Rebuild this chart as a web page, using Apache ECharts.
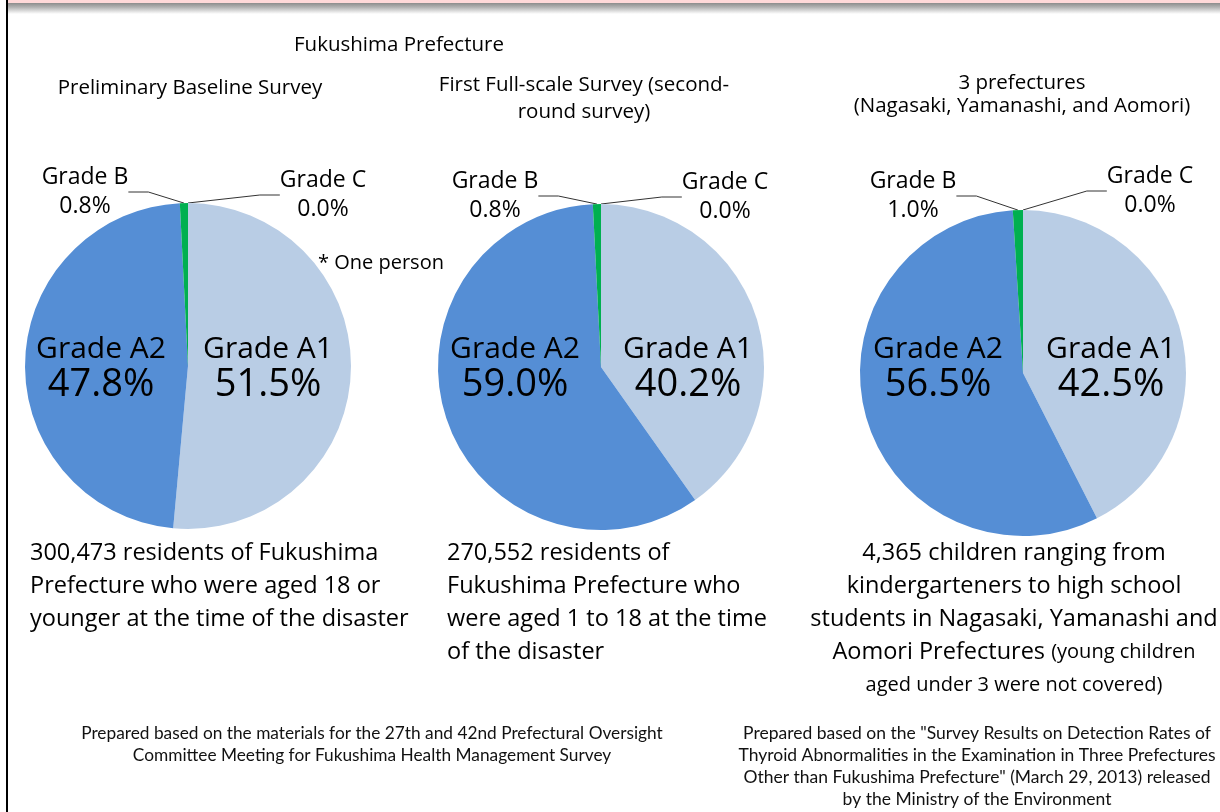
<!DOCTYPE html>
<html>
<head>
<meta charset="utf-8">
<script src="https://cdn.jsdelivr.net/npm/echarts@6/dist/echarts.min.js"></script>
<style>
html,body{margin:0;padding:0;background:#fff;}
#chart{width:1220px;height:812px;}
</style>
</head>
<body>
<div id="chart"></div>
<script>
// ---- data ----
const grades = ['Grade A1', 'Grade A2', 'Grade B', 'Grade C'];
const baselineValues = [51.5, 47.8, 0.8, 0.0];
const fullScaleValues = [40.2, 59.0, 0.8, 0.0];
const threePrefValues = [42.5, 56.5, 1.0, 0.0];

const groupTitle = 'Fukushima Prefecture';
const pieTitles = [
  ['Preliminary Baseline Survey'],
  ['First Full-scale Survey (second-', 'round survey)'],
  ['3 prefectures', '(Nagasaki, Yamanashi, and Aomori)']
];
const descriptions = [
  ['300,473 residents of Fukushima', 'Prefecture who were aged 18 or', 'younger at the time of the disaster'],
  ['270,552 residents of', 'Fukushima Prefecture who', 'were aged 1 to 18 at the time', 'of the disaster'],
  ['4,365 children ranging from', 'kindergarteners to high school', 'students in Nagasaki, Yamanashi and', '{b|Aomori Prefectures} {s|(young children}', '{s|aged under 3 were not covered)}']
];
const noteText = '* One person';
const sources = [
  ['Prepared based on the materials for the 27th and 42nd Prefectural Oversight', 'Committee Meeting for Fukushima Health Management Survey'],
  ['Prepared based on the "Survey Results on Detection Rates of', 'Thyroid Abnormalities in the Examination in Three Prefectures', 'Other than Fukushima Prefecture" (March 29, 2013) released', 'by the Ministry of the Environment']
];

// ---- styling / layout ----
const colors = ['#B9CDE5', '#558ED5', '#00B050', '#7F7F7F'];
const FONT = '"Open Sans", "Noto Sans", sans-serif';
const pieLayout = [
  {cx: 188, cy: 366, inR: 80, inL: -87, inDy: 2, b: [-103, -174], c: [135, -171]},
  {cx: 601, cy: 367, inR: 87, inL: -86, inDy: 1, b: [-106, -171], c: [124, -170]},
  {cx: 1023, cy: 373, inR: 88, inL: -85, inDy: -5, b: [-110, -177], c: [127, -182]}
];
const R = 163;

function buildSeries(values, idx) {
  const L = pieLayout[idx];
  return {
    type: 'pie',
    center: [L.cx, L.cy],
    radius: R,
    startAngle: 90,
    clockwise: true,
    animation: false,
    silent: true,
    avoidLabelOverlap: false,
    itemStyle: {borderWidth: 0},
    data: grades.map((g, i) => {
      const inside = i < 2;
      return {
        name: g,
        value: values[i],
        itemStyle: {color: colors[i]},
        label: inside ? {
          show: true,
          position: 'inside',
          formatter: '{n|' + g + '}\n{v|' + values[i].toFixed(1) + '%}',
          rich: {
            n: {fontFamily: FONT, fontSize: 30, color: '#000', lineHeight: 34},
            v: {fontFamily: FONT, fontSize: 38, color: '#000', lineHeight: 38}
          }
        } : {
          show: true,
          position: 'outside',
          formatter: g + '\n' + values[i].toFixed(1) + '%',
          fontFamily: FONT, fontSize: 23, color: '#000', lineHeight: 29, align: 'center'
        },
        labelLine: {show: !inside, length: 10, length2: 20, smooth: false,
          lineStyle: {color: '#333', width: 1}}
      };
    }),
    labelLayout: function (p) {
      const i = p.dataIndex;
      if (i < 2) {
        return {x: L.cx + (i === 0 ? L.inR : L.inL), y: L.cy + L.inDy,
          align: 'center', verticalAlign: 'middle'};
      }
      const off = i === 2 ? L.b : L.c;
      return {x: L.cx + off[0], y: L.cy + off[1], align: 'center', verticalAlign: 'middle'};
    }
  };
}

const graphics = [];
// frame
graphics.push({type: 'rect', shape: {x: 8, y: 0, width: 1212, height: 3}, style: {fill: '#FFD9D9'}, silent: true});
graphics.push({type: 'rect', shape: {x: 8, y: 3, width: 1212, height: 11}, silent: true,
  style: {fill: new echarts.graphic.LinearGradient(0, 0, 0, 1, [
    {offset: 0, color: '#8C8C8C'}, {offset: 0.4, color: '#B5B5B5'}, {offset: 1, color: '#FFFFFF'}])}});
graphics.push({type: 'rect', shape: {x: 6, y: 0, width: 2, height: 812}, style: {fill: '#000'}, silent: true});

function addText(lines, x, yCenterFirst, lh, size, align, extra) {
  graphics.push({
    type: 'text', silent: true,
    style: Object.assign({
      text: lines.join('\n'), x: x, y: yCenterFirst - lh / 2,
      textAlign: align, textVerticalAlign: 'top',
      font: size + 'px ' + FONT, fill: '#000', lineHeight: lh
    }, extra || {})
  });
}
// titles
addText([groupTitle], 399, 45, 24, 20.5, 'center');
addText(pieTitles[0], 190, 88, 24, 20.5, 'center');
addText(pieTitles[1], 584, 85, 27, 20.5, 'center');
addText(pieTitles[2], 1022, 83, 23, 20.5, 'center');
// note
addText([noteText], 318, 263, 24, 20, 'left');
// descriptions
addText(descriptions[0], 30, 553, 33, 23.5, 'left');
addText(descriptions[1], 447, 553, 33, 23.5, 'left');
addText(descriptions[2], 1014, 553, 33, 23.5, 'center', {
  rich: {
    b: {fontFamily: FONT, fontSize: 23.5, fill: '#000', lineHeight: 33},
    s: {fontFamily: FONT, fontSize: 20, fill: '#000', lineHeight: 33}
  }
});
// sources
const SRC_FONT = 'Lato, "Open Sans", sans-serif';
graphics.push({type: 'text', silent: true, style: {text: sources[0].join('\n'), x: 372, y: 722,
  textAlign: 'center', textVerticalAlign: 'top', font: '17.3px ' + SRC_FONT, fill: '#111', lineHeight: 22}});
graphics.push({type: 'text', silent: true, style: {text: sources[1].join('\n'), x: 977, y: 722,
  textAlign: 'center', textVerticalAlign: 'top', font: '17.5px ' + SRC_FONT, fill: '#111', lineHeight: 22}});

const chart = echarts.init(document.getElementById('chart'), null, {renderer: 'canvas'});
chart.setOption({
  backgroundColor: '#FFFFFF',
  animation: false,
  series: [
    buildSeries(baselineValues, 0),
    buildSeries(fullScaleValues, 1),
    buildSeries(threePrefValues, 2)
  ],
  graphic: graphics
});
</script>
</body>
</html>
